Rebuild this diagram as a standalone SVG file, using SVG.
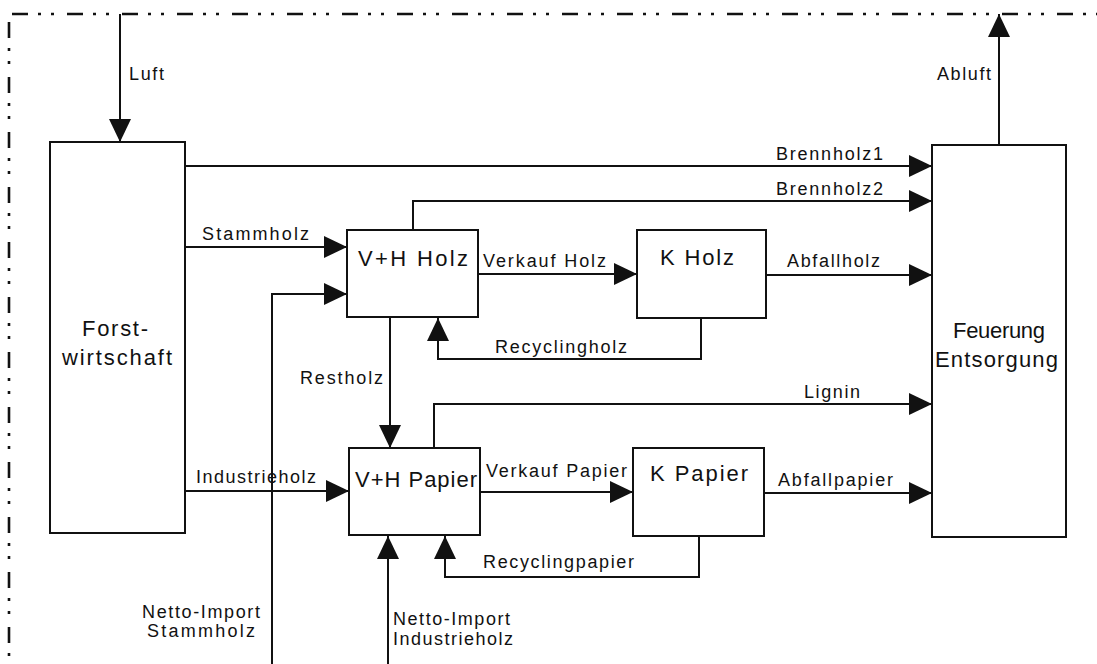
<svg xmlns="http://www.w3.org/2000/svg" width="1097" height="664" viewBox="0 0 1097 664">
<style>
.box{fill:#fff;stroke:#111;stroke-width:2}
.c{fill:none;stroke:#111;stroke-width:2}
.b{fill:none;stroke:#111;stroke-width:2.6;stroke-dasharray:16 10 3 10 3 13}
.t{font-family:"Liberation Sans",Arial,sans-serif;font-size:18px;fill:#111}
.n{font-family:"Liberation Sans",Arial,sans-serif;font-size:22px;fill:#111}
</style>
<defs>
<marker id="ah" markerUnits="userSpaceOnUse" markerWidth="24" markerHeight="22" refX="23" refY="11" orient="auto" viewBox="0 0 24 22">
<path d="M0,0 L23,11 L0,22 z" fill="#111"/>
</marker>
</defs>
<rect width="1097" height="664" fill="#fff"/>
<g id="border">
<path class="b" d="M12,14 H1097"/>
<path class="b" d="M9,22 V664"/>
</g>
<g id="connectors">
<path class="c" d="M120,14 V142" marker-end="url(#ah)"/>
<path class="c" d="M999,145 V14" marker-end="url(#ah)"/>
<path class="c" d="M185,166 H932" marker-end="url(#ah)"/>
<path class="c" d="M413,230 V201 H932" marker-end="url(#ah)"/>
<path class="c" d="M185,247 H347" marker-end="url(#ah)"/>
<path class="c" d="M272,664 V294 H347" marker-end="url(#ah)"/>
<path class="c" d="M478,274 H637" marker-end="url(#ah)"/>
<path class="c" d="M766,275 H932" marker-end="url(#ah)"/>
<path class="c" d="M701,318 V359 H438 V318" marker-end="url(#ah)"/>
<path class="c" d="M390,317 V448" marker-end="url(#ah)"/>
<path class="c" d="M434,448 V404 H932" marker-end="url(#ah)"/>
<path class="c" d="M185,491 H349" marker-end="url(#ah)"/>
<path class="c" d="M480,492 H633" marker-end="url(#ah)"/>
<path class="c" d="M764,493 H932" marker-end="url(#ah)"/>
<path class="c" d="M699,536 V577 H445 V536" marker-end="url(#ah)"/>
<path class="c" d="M388,664 V536" marker-end="url(#ah)"/>
<text class="t" x="129" y="80" textLength="35" lengthAdjust="spacing">Luft</text>
<text class="t" x="937" y="80" textLength="54" lengthAdjust="spacing">Abluft</text>
<text class="t" x="776" y="160" textLength="107" lengthAdjust="spacing">Brennholz1</text>
<text class="t" x="776" y="195" textLength="107" lengthAdjust="spacing">Brennholz2</text>
<text class="t" x="202" y="240" textLength="107" lengthAdjust="spacing">Stammholz</text>
<text class="t" x="483" y="267" textLength="123" lengthAdjust="spacing">Verkauf Holz</text>
<text class="t" x="787" y="267" textLength="93" lengthAdjust="spacing">Abfallholz</text>
<text class="t" x="495" y="353" textLength="132" lengthAdjust="spacing">Recyclingholz</text>
<text class="t" x="300" y="384" textLength="83" lengthAdjust="spacing">Restholz</text>
<text class="t" x="804" y="398" textLength="56" lengthAdjust="spacing">Lignin</text>
<text class="t" x="196" y="483" textLength="120" lengthAdjust="spacing">Industrieholz</text>
<text class="t" x="486" y="477" textLength="141" lengthAdjust="spacing">Verkauf Papier</text>
<text class="t" x="778" y="486" textLength="115" lengthAdjust="spacing">Abfallpapier</text>
<text class="t" x="483" y="568" textLength="151" lengthAdjust="spacing">Recyclingpapier</text>
<text class="t" x="142" y="618" textLength="118" lengthAdjust="spacing">Netto-Import</text>
<text class="t" x="147" y="637" textLength="108" lengthAdjust="spacing">Stammholz</text>
<text class="t" x="393" y="625" textLength="117" lengthAdjust="spacing">Netto-Import</text>
<text class="t" x="393" y="645" textLength="120" lengthAdjust="spacing">Industrieholz</text>
</g>
<g id="forstwirtschaft">
<rect class="box" x="50" y="142" width="135" height="391"/>
<text class="n" x="82" y="336" textLength="66" lengthAdjust="spacing">Forst-</text>
<text class="n" x="62" y="365" textLength="110" lengthAdjust="spacing">wirtschaft</text>
</g>
<g id="vh-holz">
<rect class="box" x="347" y="230" width="131" height="87"/>
<text class="n" x="358" y="266" textLength="110" lengthAdjust="spacing">V+H Holz</text>
</g>
<g id="k-holz">
<rect class="box" x="637" y="230" width="129" height="88"/>
<text class="n" x="660" y="265" textLength="74" lengthAdjust="spacing">K Holz</text>
</g>
<g id="vh-papier">
<rect class="box" x="349" y="448" width="131" height="87"/>
<text class="n" x="355" y="487" textLength="122" lengthAdjust="spacing">V+H Papier</text>
</g>
<g id="k-papier">
<rect class="box" x="633" y="448" width="131" height="88"/>
<text class="n" x="650" y="481" textLength="98" lengthAdjust="spacing">K Papier</text>
</g>
<g id="feuerung">
<rect class="box" x="932" y="145" width="134" height="392"/>
<text class="n" x="953" y="338" textLength="92" lengthAdjust="spacing">Feuerung</text>
<text class="n" x="935" y="367" textLength="123" lengthAdjust="spacing">Entsorgung</text>
</g>
</svg>
